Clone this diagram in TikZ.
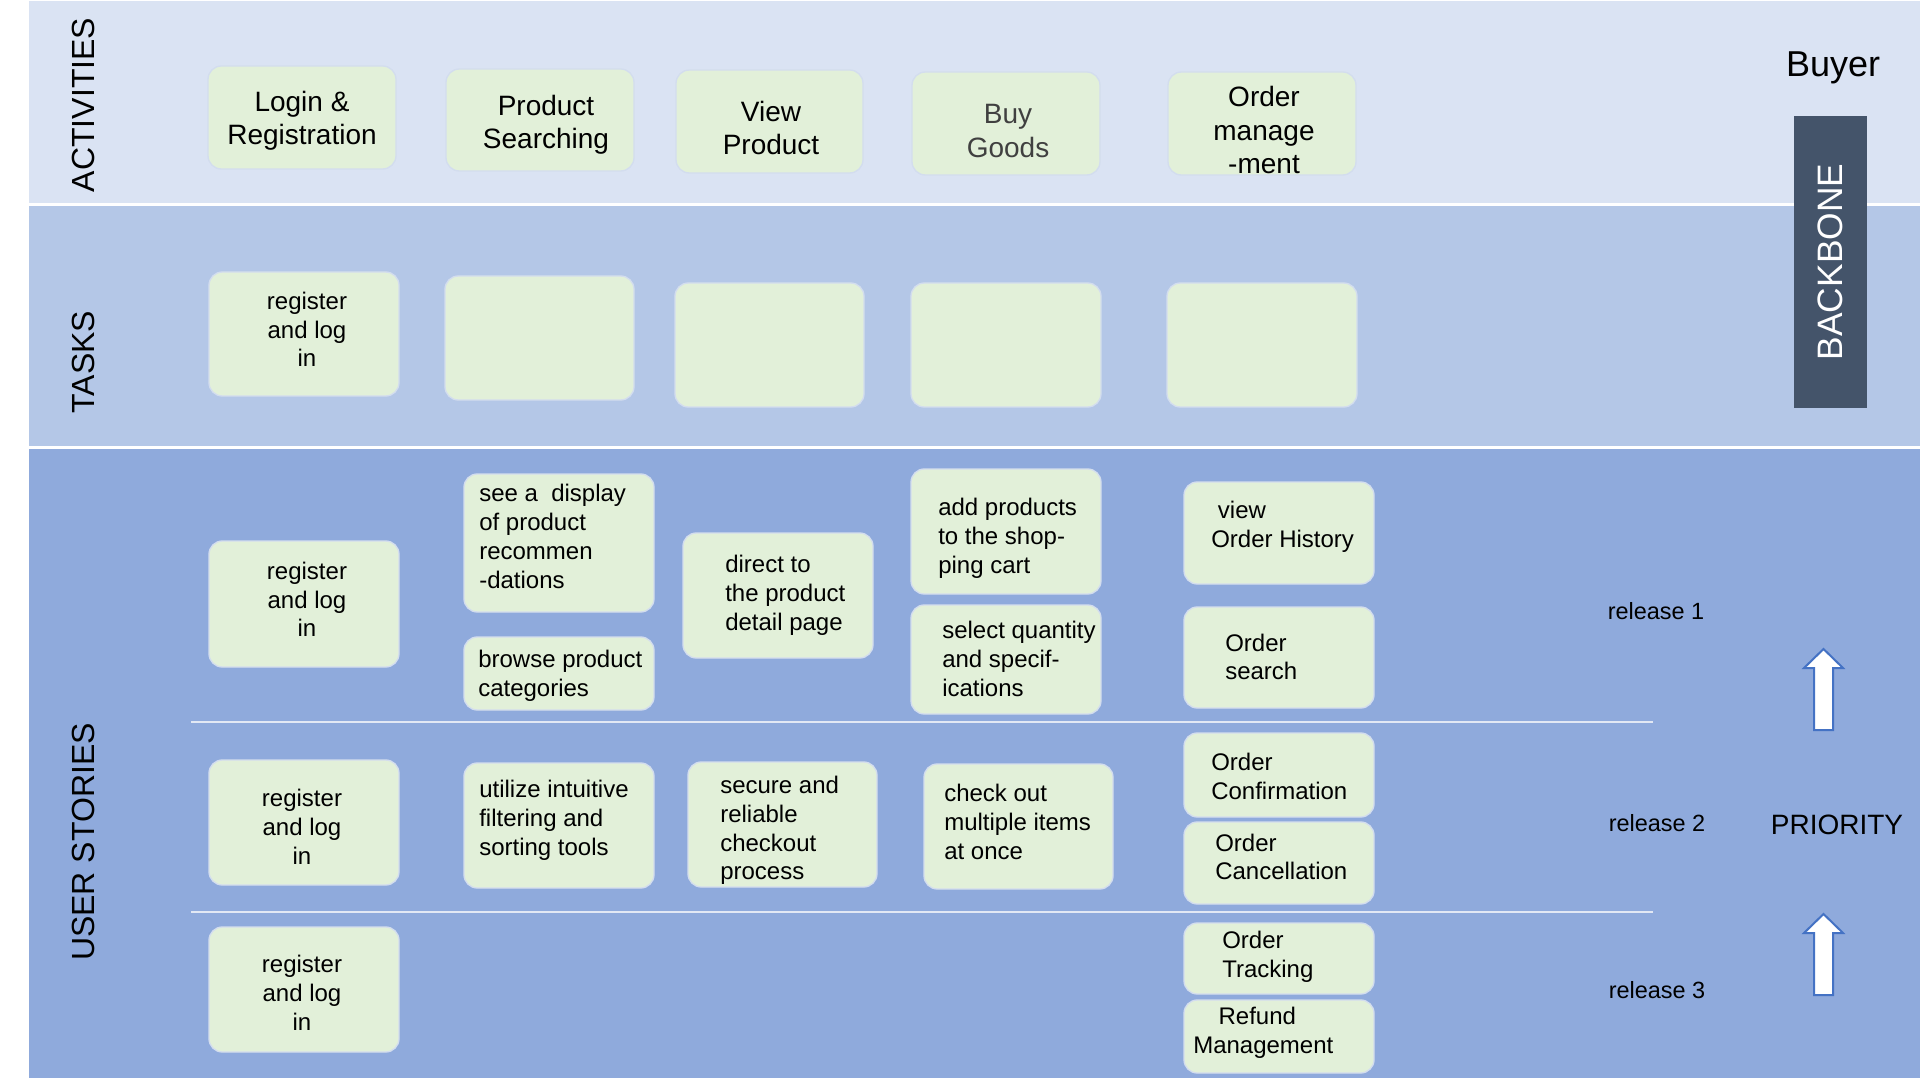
\documentclass[tikz,border=0pt]{standalone}
\usepackage{fontspec}
\setmainfont{Liberation Sans}
\definecolor{bandA}{HTML}{DAE3F3}
\definecolor{bandB}{HTML}{B4C7E7}
\definecolor{bandC}{HTML}{8FAADC}
\definecolor{cardfill}{HTML}{E2F0D9}
\definecolor{cardline}{HTML}{D3DDEE}
\definecolor{backbone}{HTML}{44546A}
\definecolor{arrowline}{HTML}{4472C4}
\definecolor{sepline}{HTML}{E2E8F4}
\definecolor{greytext}{HTML}{404040}
\newcommand\mkcard[5]{\node[card, minimum width={(#4-#2)*0.75pt}, minimum height={(#5-#3)*0.75pt}] (#1) at ({(#2+#4)/2},{(#3+#5)/2}) {};}
\begin{document}
\begin{tikzpicture}[x=0.75pt,y=-0.75pt,
  card/.style={draw=cardline, line width=1pt, fill=cardfill, rounded corners=10pt, inner sep=0pt},
  acttxt/.style={font=\fontsize{21pt}{25pt}\selectfont, align=center, inner sep=0pt},
  stxt/.style={font=\fontsize{18pt}{21.6pt}\selectfont, align=left, inner sep=0pt, anchor=west},
  ctxt/.style={font=\fontsize{18pt}{21.6pt}\selectfont, align=center, inner sep=0pt},
  rowlab/.style={font=\fontsize{24pt}{28pt}\selectfont, rotate=90, inner sep=0pt},
  reltxt/.style={font=\fontsize{17.6pt}{21pt}\selectfont, inner sep=0pt},
  sepst/.style={draw=sepline, line width=1.5pt},
  prio/.style={draw=arrowline, fill=white, line width=1.5pt, line join=miter}
]
\useasboundingbox (0,0) rectangle (1920,1080);
\fill[white] (0,0) rectangle (1920,1080);
% bands
\fill[bandA] (29,1) rectangle (1920,203);
\fill[bandB] (29,206) rectangle (1920,446);
\fill[bandC] (29,449) rectangle (1920,1078);

% row labels
\node[rowlab] (labA) at (83,105) {ACTIVITIES};
\node[rowlab] (labT) at (83,362) {TASKS};
\node[rowlab] (labU) at (83,842) {USER STORIES};

% activities
\mkcard{a1}{208}{66}{396}{169}
\mkcard{a2}{446}{69}{634}{171}
\mkcard{a3}{676}{70}{863}{173}
\mkcard{a4}{912}{72}{1100}{175}
\mkcard{a5}{1168}{72}{1356}{175}
\node[acttxt] (ta1) at (302,121) {Login \&\\Registration};
\node[acttxt] (ta2) at (546,125) {Product\\Searching};
\node[acttxt] (ta3) at (771,128) {View\\Product};
\node[acttxt, text=greytext] (ta4) at (1008,131) {Buy\\Goods};
\node[acttxt, font=\fontsize{21pt}{25pt}\selectfont] (ta5) at (1264,130) {Order\\manage\\-ment};

% tasks
\mkcard{t1}{209}{272}{399}{396}
\mkcard{t2}{445}{276}{634}{400}
\mkcard{t3}{675}{283}{864}{407}
\mkcard{t4}{911}{283}{1101}{407}
\mkcard{t5}{1167}{283}{1357}{407}
\node[ctxt] (tt1) at (307,329.5) {register\\and log\\in};

% release 1
\mkcard{r1a}{209}{541}{399}{667}
\mkcard{r1b}{464}{474}{654}{612}
\mkcard{r1c}{464}{637}{654}{710}
\mkcard{r1d}{683}{533}{873}{658}
\mkcard{r1e}{911}{469}{1101}{594}
\mkcard{r1f}{911}{605}{1101}{714}
\mkcard{r1g}{1184}{482}{1374}{584}
\mkcard{r1h}{1184}{607}{1374}{708}
\node[ctxt] (s1a) at (307,599.5) {register\\and log\\in};
\node[stxt] (s1b) at (479,536.5) {see a \ display\\of product\\recommen\\-dations};
\node[stxt] (s1c) at (478,676) {browse product\\categories};
\node[stxt] (s1d) at (725,595) {direct to\\the product\\detail page};
\node[stxt] (s1e) at (938,538.5) {add products\\to the shop-\\ping cart};
\node[stxt] (s1f) at (942,659) {select quantity\\and specif-\\ications};
\node[stxt] (s1g) at (1211,527) {\hspace*{5pt}view\\Order History};
\node[stxt] (s1h) at (1225,657) {Order\\search};

% release 2
\mkcard{r2a}{209}{760}{399}{885}
\mkcard{r2b}{464}{763}{654}{888}
\mkcard{r2c}{688}{762}{877}{887}
\mkcard{r2d}{924}{764}{1113}{889}
\mkcard{r2e}{1184}{733}{1374}{817}
\mkcard{r2f}{1184}{822}{1374}{904}
\node[ctxt] (s2a) at (302,826.5) {register\\and log\\in};
\node[stxt] (s2b) at (479,820.5) {utilize intuitive\\filtering and\\sorting tools};
\node[stxt] (s2c) at (720,830.5) {secure and\\reliable\\checkout\\process};
\node[stxt] (s2d) at (944,822) {check out\\multiple items\\at once};
\node[stxt] (s2e) at (1211,776.5) {Order\\Confirmation};
\node[stxt] (s2f) at (1215,857) {Order\\Cancellation};

% release 3
\mkcard{r3a}{209}{927}{399}{1052}
\mkcard{r3b}{1184}{923}{1374}{994}
\mkcard{r3c}{1184}{1000}{1374}{1073}
\node[ctxt] (s3a) at (302,992.5) {register\\and log\\in};
\node[stxt] (s3b) at (1222,956.5) {Order\\Tracking};
\node[stxt] (s3c) at (1193,1032.5) {\hspace*{19pt}Refund\\Management};

% release separators
\coordinate (sepAl) at (191,722);
\coordinate (sepAr) at (1653,722);
\coordinate (sepBl) at (191,912);
\coordinate (sepBr) at (1653,912);
\draw[sepst] (sepAl) -- (sepAr);
\draw[sepst] (sepBl) -- (sepBr);

% release labels
\node[reltxt] (rel1) at (1656,611) {release 1};
\node[reltxt] (rel2) at (1657,823) {release 2};
\node[reltxt] (rel3) at (1657,990) {release 3};

% right side
\node[font=\fontsize{27pt}{32pt}\selectfont, inner sep=0pt] (buyer) at (1833,68) {Buyer};
\node[fill=backbone, rotate=90, minimum width={292*0.75pt}, minimum height={73*0.75pt}, inner sep=0pt,
      text=white, font=\fontsize{26.5pt}{31pt}\selectfont] (bb) at (1830.5,262) {BACKBONE};
\node[font=\fontsize{21pt}{25pt}\selectfont, inner sep=0pt] (prio) at (1837,825) {PRIORITY};

% priority arrows
\draw[prio] (1814,730) -- (1814,668) -- (1804,668) -- (1823.5,649) -- (1843,668) -- (1833,668) -- (1833,730) -- cycle;
\draw[prio] (1814,995) -- (1814,933) -- (1804,933) -- (1823.5,914) -- (1843,933) -- (1833,933) -- (1833,995) -- cycle;
\end{tikzpicture}
\end{document}
